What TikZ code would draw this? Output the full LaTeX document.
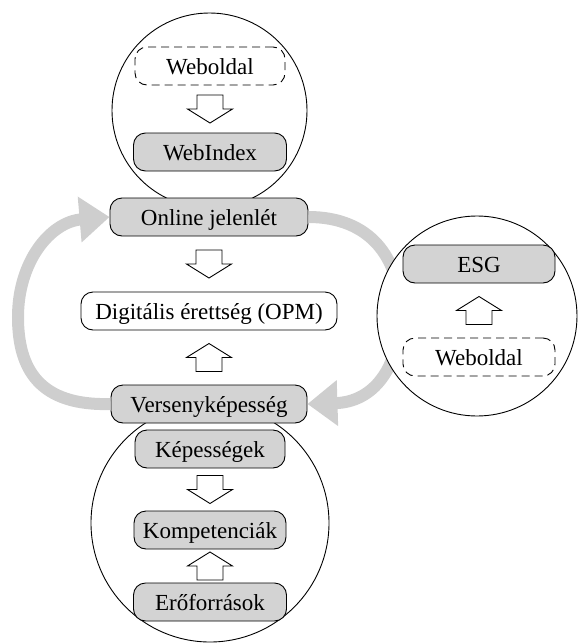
\documentclass[tikz,border=0pt]{standalone}
\usepackage{fontspec}
\setmainfont{Liberation Serif}
\usetikzlibrary{arrows.meta,calc}
\definecolor{boxgray}{RGB}{211,211,211}
\definecolor{bandgray}{RGB}{206,206,206}
\tikzset{
  basebox/.style={draw, line width=0.9pt, rounded corners=12pt, minimum height=38pt,
    inner sep=0pt, font=\fontsize{23}{27}\selectfont, text height=16pt, text depth=0pt},
  gbox/.style={basebox, fill=boxgray},
  wbox/.style={basebox, fill=white},
  dbox/.style={basebox, fill=white, dash pattern=on 8pt off 5pt},
  ring/.style={circle, draw, line width=0.9pt, inner sep=0pt, fill=white},
  band/.style={draw=bandgray, line width=12pt, -{Triangle[width=44pt,length=30pt]}},
  downarr/.pic={\draw[line width=0.9pt, fill=white] (-13,-14) -- (13,-14) -- (13,0) -- (22.5,0) -- (0,14) -- (-22.5,0) -- (-13,0) -- cycle;},
  uparr/.pic={\draw[line width=0.9pt, fill=white] (-13,14) -- (13,14) -- (13,0) -- (22.5,0) -- (0,-14) -- (-22.5,0) -- (-13,0) -- cycle;}
}
\begin{document}
\begin{tikzpicture}[x=1pt, y=-1pt]
\useasboundingbox (0,0) rectangle (579,643);
% circles
\node[ring, minimum size=195pt] (topc) at (209.5,110.5) {};
\node[ring, minimum size=238pt] (botc) at (210,523) {};
% boxes in middle column
\node[gbox, minimum width=198pt] (online) at (209,217) {Online jelenlét};
\node[wbox, minimum width=256pt] (dig) at (209,311) {Digitális érettség (OPM)};
\node[gbox, minimum width=196pt] (vers) at (209,404) {Versenyképesség};
% gray bands
\draw[band] (vers.west) .. controls (40,406) and (18,370) .. (18,317) .. controls (18,262) and (50,222) .. (online.west);
\draw[band] (online.east) .. controls (370,217) and (400,258) .. (400,312) .. controls (400,370) and (372,402) .. (vers.east);
% right circle
\node[ring, minimum size=200pt] (rightc) at (477,316) {};
% top circle content
\node[dbox, minimum width=150pt] (web1) at (210,66) {Weboldal};
\node[gbox, minimum width=153pt] (webindex) at (210,152) {WebIndex};
% bottom circle content
\node[gbox, minimum width=150pt] (kep) at (210,449) {Képességek};
\node[gbox, minimum width=152pt] (komp) at (210,530) {Kompetenciák};
\node[gbox, minimum width=153pt] (ero) at (210,602) {Erőforrások};
% right circle content
\node[gbox, minimum width=152pt] (esg) at (479,264) {ESG};
\node[dbox, minimum width=152pt] (web2) at (479,357) {Weboldal};
% block arrows
\pic at ($(web1.south)!0.5!(webindex.north)$) {downarr};
\pic at ($(online.south)!0.5!(dig.north)$) {downarr};
\pic at ($(vers.north)!0.5!(dig.south)$) {uparr};
\pic at ($(kep.south)!0.5!(komp.north)$) {downarr};
\pic at ($(ero.north)!0.5!(komp.south)$) {uparr};
\pic at ($(web2.north)!0.5!(esg.south)$) {uparr};
\end{tikzpicture}
\end{document}
